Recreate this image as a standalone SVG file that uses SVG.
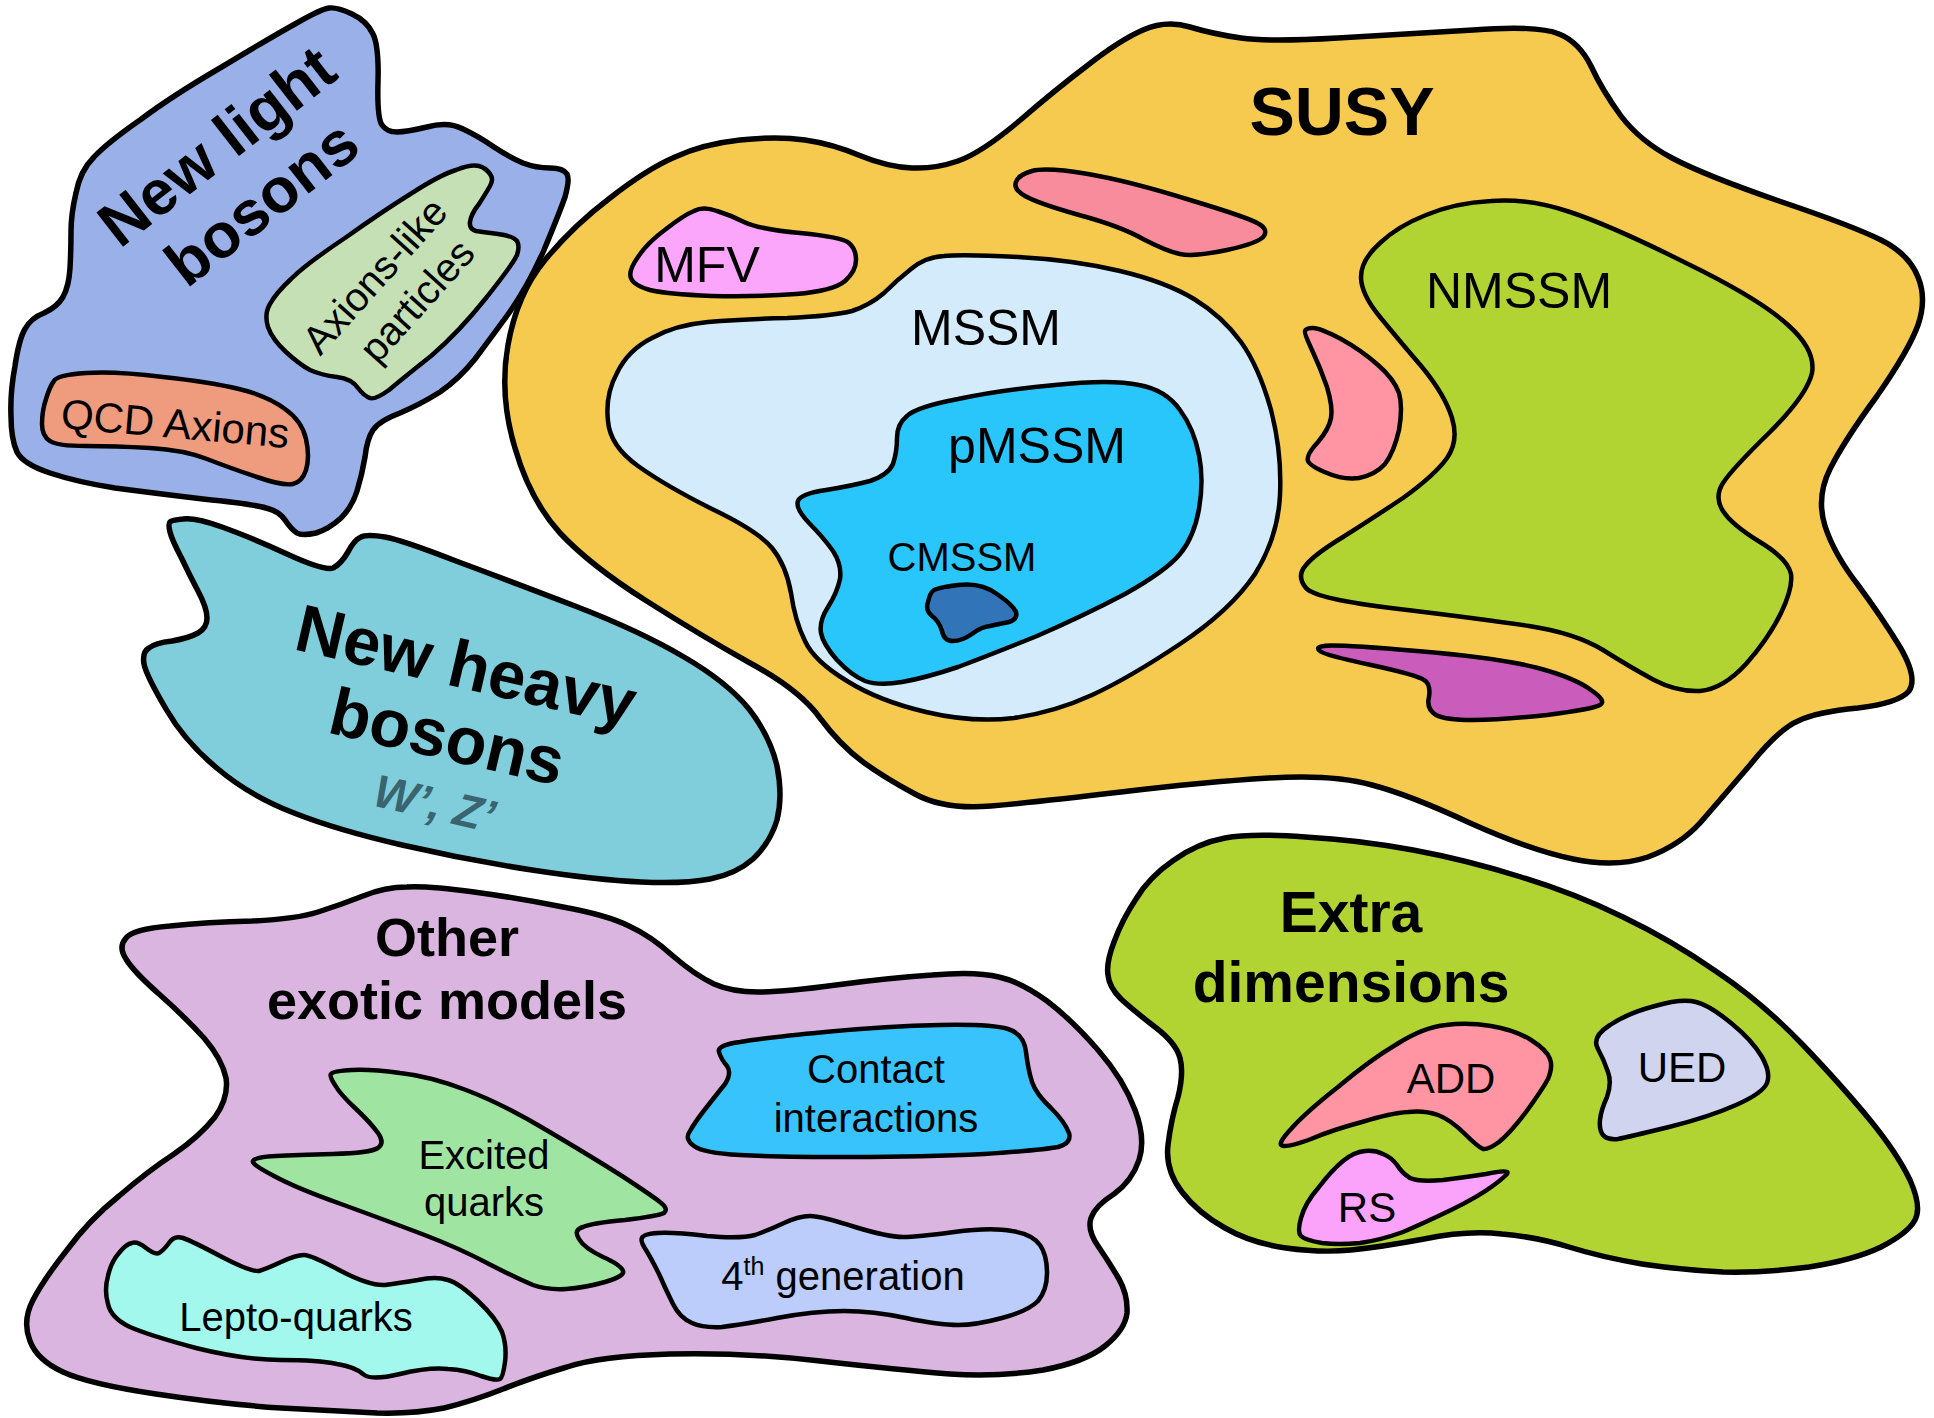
<svg xmlns="http://www.w3.org/2000/svg" width="1934" height="1418" viewBox="0 0 1934 1418">
<style>
.o{stroke:#000;stroke-width:5.5;stroke-linejoin:round}
.i{stroke:#000;stroke-width:4.5;stroke-linejoin:round}
.t{font-family:"Liberation Sans",Arial,Helvetica,sans-serif;fill:#000;text-anchor:middle}
.b{font-weight:bold}
</style>
<rect width="1934" height="1418" fill="#fff"/>
<g id="new-light-bosons">
<path class="o" fill="#9AB0E8" d="M329,8 Q337,7 352,14 Q367,21 373,34 Q379,46 378,82 Q377,118 382,125 Q387,132 397,132 Q406,132 427,127 Q448,121 463,129 Q478,136 494,147 Q509,157 523,163 Q536,168 550,168 Q563,168 567,174 Q570,179 565,197 Q559,214 544,250 Q528,286 509,313 Q490,339 475,359 Q459,379 440,392 Q421,404 400,413 Q379,421 373,430 Q367,439 365,457 Q362,475 357,491 Q352,507 341,518 Q329,529 316,533 Q302,536 297,533 Q291,529 285,520 Q279,511 266,508 Q253,504 203,499 Q153,493 115,488 Q77,482 50,473 Q23,464 17,452 Q11,439 11,416 Q10,393 15,366 Q19,339 25,329 Q31,318 44,313 Q57,307 63,297 Q69,286 70,268 Q71,250 71,232 Q71,214 76,193 Q80,171 94,157 Q107,143 140,120 Q172,96 220,68 Q268,39 295,24 Q321,9 329,8 Z"/>
<text class="t b" font-size="63" transform="translate(230,163) rotate(-38)">New light</text>
<text class="t b" font-size="63" transform="translate(275,220) rotate(-38)">bosons</text>
</g>
<g id="axions-like">
<path class="i" fill="#C6E0B5" d="M479,166 Q486,168 490,174 Q494,179 490,186 Q486,193 479,204 Q471,214 470,222 Q469,229 476,231 Q482,232 498,234 Q513,236 517,241 Q520,246 517,255 Q513,264 486,298 Q459,332 431,356 Q402,379 389,390 Q375,400 370,398 Q364,396 358,388 Q352,379 337,377 Q321,375 310,370 Q299,364 286,352 Q272,339 268,327 Q264,314 270,304 Q276,293 291,279 Q306,264 345,238 Q383,211 412,193 Q440,175 456,170 Q471,164 479,166 Z"/>
<text class="t" font-size="40" transform="translate(385,285) rotate(-48)">Axions-like</text>
<text class="t" font-size="40" transform="translate(427,310) rotate(-48)">particles</text>
</g>
<g id="qcd-axions">
<path class="i" fill="#EE9B7E" d="M54,381 Q57,375 86,373 Q115,371 163,377 Q210,382 239,389 Q268,396 285,409 Q302,421 306,439 Q310,457 306,470 Q302,482 293,484 Q283,486 257,477 Q230,468 207,459 Q184,450 150,448 Q115,446 86,446 Q57,446 50,441 Q42,436 42,424 Q42,411 46,399 Q50,386 54,381 Z"/>
<text class="t" font-size="42" transform="translate(174,438) rotate(5)">QCD Axions</text>
</g>
<g id="new-heavy-bosons">
<path class="o" fill="#80CDDB" d="M170,522 Q172,520 183,519 Q194,517 222,527 Q250,537 287,554 Q324,571 333,568 Q341,564 348,552 Q354,540 361,537 Q367,534 385,537 Q402,540 456,561 Q510,581 575,606 Q640,631 684,657 Q727,682 749,709 Q770,736 777,766 Q783,796 777,820 Q770,843 753,859 Q736,874 710,879 Q684,884 641,882 Q597,880 532,870 Q467,860 402,845 Q337,830 294,813 Q250,796 218,769 Q185,742 166,709 Q146,675 144,664 Q142,652 149,648 Q155,643 172,641 Q189,638 198,633 Q207,628 207,618 Q207,608 198,591 Q189,574 181,557 Q172,540 170,532 Q168,524 170,522 Z"/>
<text class="t b" font-size="67" transform="translate(461,688) rotate(13)">New heavy</text>
<text class="t b" font-size="67" transform="translate(442,759) rotate(13)">bosons</text>
<text class="t b" font-size="46" font-style="italic" style="fill:#3A6570" transform="translate(431,819) rotate(13)">W’, Z’</text>
</g>
<g id="susy">
<path class="o" fill="#F6C94F" d="M515,448 Q499,395 508,345 Q517,294 545,260 Q573,226 610,198 Q647,169 675,157 Q703,144 740,140 Q777,136 805,140 Q833,144 861,156 Q888,167 912,168 Q935,169 958,161 Q981,153 1018,122 Q1055,90 1088,65 Q1120,40 1143,30 Q1166,20 1190,27 Q1213,34 1241,38 Q1268,42 1338,38 Q1408,34 1473,30 Q1538,25 1559,34 Q1579,42 1591,66 Q1602,90 1621,116 Q1640,141 1672,158 Q1704,175 1779,201 Q1853,226 1881,240 Q1909,254 1918,277 Q1927,299 1918,325 Q1909,350 1877,396 Q1844,441 1830,469 Q1816,497 1825,526 Q1834,554 1858,585 Q1881,616 1900,647 Q1918,678 1909,691 Q1899,703 1858,708 Q1816,712 1798,721 Q1779,729 1750,765 Q1720,800 1700,823 Q1680,845 1648,857 Q1615,868 1573,859 Q1530,850 1470,823 Q1410,795 1372,785 Q1333,774 1269,778 Q1204,782 1121,792 Q1037,802 991,806 Q944,810 915,794 Q885,778 863,762 Q840,745 820,718 Q800,690 750,663 Q700,635 645,600 Q590,565 560,533 Q530,500 515,448 Z"/>
<text class="t b" font-size="68" x="1342" y="135">SUSY</text>
</g>
<g id="mfv">
<path class="i" fill="#FCA6FB" d="M694,211 Q703,206 717,211 Q730,215 744,222 Q758,229 800,233 Q842,237 849,243 Q856,249 856,260 Q856,271 845,281 Q833,291 796,294 Q758,297 712,296 Q666,294 650,290 Q633,285 631,278 Q628,271 638,257 Q647,243 666,229 Q684,215 694,211 Z"/>
<text class="t" font-size="50" x="707" y="282">MFV</text>
</g>
<g id="susy-pink-top">
<path class="i" fill="#F98C9C" d="M1016,182 Q1018,175 1032,171 Q1046,167 1088,174 Q1129,181 1190,200 Q1250,218 1259,224 Q1268,229 1264,236 Q1259,243 1227,250 Q1194,257 1180,254 Q1166,251 1143,239 Q1120,226 1079,215 Q1037,203 1025,196 Q1013,189 1016,182 Z"/>
</g>
<g id="mssm">
<path class="i" fill="#D3EBFB" d="M911,269 Q925,257 944,256 Q962,254 1018,257 Q1074,260 1120,271 Q1166,282 1194,299 Q1222,316 1241,342 Q1259,367 1271,410 Q1282,452 1280,495 Q1278,537 1255,574 Q1231,610 1180,644 Q1129,678 1092,695 Q1055,712 1014,718 Q972,723 926,712 Q879,701 847,681 Q814,661 805,641 Q795,621 791,593 Q786,565 772,548 Q758,531 712,509 Q666,486 638,466 Q610,446 608,421 Q605,395 617,373 Q628,350 652,338 Q675,325 708,322 Q740,319 787,318 Q833,316 852,311 Q870,305 884,293 Q897,280 911,269 Z"/>
<text class="t" font-size="50" x="986" y="345">MSSM</text>
</g>
<g id="pmssm">
<path class="i" fill="#29C6FC" d="M907,416 Q916,407 958,399 Q999,390 1055,385 Q1111,379 1139,385 Q1166,390 1180,410 Q1194,429 1199,455 Q1204,480 1199,509 Q1194,537 1180,554 Q1166,571 1125,594 Q1083,616 1037,636 Q990,655 958,667 Q925,678 902,682 Q879,686 865,681 Q851,675 837,660 Q823,644 821,633 Q819,621 828,607 Q837,593 840,579 Q842,565 833,551 Q823,537 809,523 Q795,508 798,501 Q800,494 826,490 Q851,486 870,481 Q888,475 893,464 Q897,452 897,438 Q897,424 907,416 Z"/>
<text class="t" font-size="50" x="1037" y="463">pMSSM</text>
<text class="t" font-size="40" x="962" y="571">CMSSM</text>
</g>
<g id="cmssm">
<path class="i" fill="#3274B8" d="M933,591 Q935,588 958,585 Q981,582 997,594 Q1013,605 1016,612 Q1018,619 1009,622 Q999,624 990,626 Q981,627 972,634 Q962,641 953,641 Q944,641 942,631 Q939,621 932,616 Q925,610 928,602 Q930,593 933,591 Z"/>
</g>
<g id="susy-pink-mid">
<path class="i" fill="#FF94A2" d="M1305,331 Q1306,328 1313,328 Q1320,328 1341,339 Q1361,350 1378,365 Q1394,379 1399,393 Q1403,407 1399,430 Q1394,452 1385,464 Q1375,475 1359,478 Q1343,480 1327,473 Q1310,466 1308,461 Q1306,455 1318,442 Q1329,429 1331,418 Q1333,407 1327,387 Q1320,367 1312,350 Q1304,333 1305,331 Z"/>
</g>
<g id="nmssm">
<path class="i" fill="#B2D432" d="M1426,215 Q1454,203 1491,201 Q1528,198 1570,212 Q1612,226 1686,263 Q1760,299 1788,325 Q1816,350 1812,373 Q1807,395 1770,432 Q1732,469 1723,483 Q1714,497 1723,511 Q1732,525 1760,542 Q1788,559 1791,574 Q1793,588 1781,613 Q1769,638 1746,664 Q1723,689 1700,691 Q1677,692 1654,680 Q1630,667 1603,650 Q1575,633 1529,626 Q1482,619 1399,609 Q1315,599 1306,588 Q1296,576 1306,565 Q1315,554 1343,537 Q1370,520 1403,498 Q1435,475 1447,458 Q1459,441 1452,418 Q1445,395 1422,367 Q1398,339 1380,317 Q1361,294 1361,277 Q1361,260 1380,243 Q1398,226 1426,215 Z"/>
<text class="t" font-size="50" x="1519" y="308">NMSSM</text>
</g>
<g id="susy-purple">
<path class="i" fill="#CA5CBB" d="M1320,651 Q1315,647 1324,646 Q1333,644 1417,651 Q1500,658 1538,668 Q1575,678 1591,690 Q1607,701 1600,705 Q1593,709 1547,715 Q1500,720 1473,720 Q1445,720 1436,715 Q1426,709 1429,697 Q1431,684 1424,680 Q1417,675 1371,665 Q1324,655 1320,651 Z"/>
</g>
<g id="other-exotic">
<path class="o" fill="#D9B5DF" d="M126,959 Q118,947 126,938 Q133,929 170,926 Q207,922 252,921 Q296,919 318,912 Q340,905 363,896 Q385,887 407,887 Q429,886 474,892 Q518,898 563,907 Q607,915 629,926 Q651,936 673,956 Q695,975 714,984 Q732,992 758,992 Q784,992 836,985 Q888,978 932,975 Q976,971 999,977 Q1021,982 1047,1001 Q1072,1020 1098,1050 Q1124,1080 1135,1110 Q1146,1139 1139,1160 Q1132,1181 1114,1194 Q1095,1206 1091,1218 Q1087,1230 1098,1246 Q1109,1262 1119,1279 Q1128,1295 1127,1313 Q1125,1330 1105,1346 Q1085,1362 1043,1370 Q1000,1377 950,1374 Q900,1370 820,1361 Q740,1352 670,1354 Q600,1356 567,1367 Q533,1377 503,1389 Q473,1401 444,1408 Q414,1414 377,1413 Q340,1411 281,1408 Q222,1404 156,1394 Q89,1384 63,1372 Q37,1360 30,1341 Q22,1321 33,1300 Q44,1279 67,1250 Q89,1220 119,1196 Q148,1171 174,1154 Q200,1136 215,1117 Q229,1097 226,1078 Q222,1059 204,1038 Q185,1017 159,994 Q133,971 126,959 Z"/>
<text class="t b" font-size="54" x="447" y="956">Other</text>
<text class="t b" font-size="54" x="447" y="1019">exotic models</text>
</g>
<g id="contact">
<path class="i" fill="#39C3FC" d="M719,1052 Q717,1045 740,1042 Q762,1038 825,1032 Q888,1026 940,1025 Q991,1024 1008,1029 Q1024,1034 1026,1052 Q1028,1069 1032,1082 Q1036,1094 1051,1108 Q1065,1122 1069,1133 Q1072,1143 1058,1147 Q1043,1150 984,1154 Q925,1157 851,1157 Q777,1157 740,1155 Q703,1153 694,1146 Q684,1139 690,1131 Q695,1122 706,1108 Q717,1094 725,1084 Q732,1073 727,1066 Q721,1059 719,1052 Z"/>
<text class="t" font-size="40" x="876" y="1083">Contact</text>
<text class="t" font-size="40" x="876" y="1132">interactions</text>
</g>
<g id="excited">
<path class="i" fill="#9FE5A1" d="M331,1074 Q333,1071 352,1070 Q370,1069 400,1073 Q429,1076 466,1090 Q503,1104 548,1131 Q592,1157 622,1176 Q651,1195 660,1202 Q669,1209 664,1213 Q658,1216 625,1220 Q592,1223 583,1227 Q573,1230 579,1239 Q584,1248 603,1257 Q621,1265 623,1271 Q625,1276 605,1282 Q584,1288 566,1289 Q547,1290 533,1285 Q518,1279 489,1264 Q459,1248 422,1234 Q385,1220 341,1204 Q296,1188 274,1176 Q251,1164 253,1161 Q255,1157 276,1156 Q296,1155 333,1154 Q370,1153 378,1148 Q385,1143 378,1133 Q370,1122 355,1108 Q340,1094 335,1085 Q329,1076 331,1074 Z"/>
<text class="t" font-size="40" x="484" y="1169">Excited</text>
<text class="t" font-size="40" x="484" y="1216">quarks</text>
</g>
<g id="fourth-generation">
<path class="i" fill="#BCCCFB" d="M642,1238 Q643,1234 658,1233 Q673,1232 707,1236 Q740,1239 755,1235 Q769,1230 784,1223 Q799,1216 810,1216 Q821,1216 855,1227 Q888,1237 903,1237 Q917,1237 954,1232 Q991,1227 1012,1231 Q1032,1234 1040,1245 Q1047,1255 1047,1273 Q1047,1290 1038,1301 Q1028,1311 1002,1318 Q976,1325 958,1325 Q939,1325 906,1318 Q873,1311 844,1311 Q814,1311 777,1318 Q740,1325 722,1327 Q703,1328 692,1323 Q680,1318 673,1304 Q666,1290 659,1274 Q651,1258 646,1250 Q640,1241 642,1238 Z"/>
<text class="t" font-size="40" x="843" y="1290">4<tspan font-size="25" dy="-15">th</tspan><tspan dy="15"> generation</tspan></text>
</g>
<g id="lepto-quarks">
<path class="i" fill="#A2F8EC" d="M119,1253 Q126,1244 132,1243 Q137,1241 146,1248 Q155,1255 159,1253 Q163,1251 169,1243 Q174,1235 183,1238 Q192,1241 222,1257 Q251,1272 259,1271 Q266,1269 281,1262 Q296,1255 304,1255 Q311,1255 341,1271 Q370,1286 385,1285 Q399,1283 418,1280 Q436,1276 448,1280 Q459,1283 478,1301 Q496,1318 502,1332 Q507,1346 505,1362 Q503,1377 500,1379 Q496,1381 481,1376 Q466,1370 448,1369 Q429,1367 400,1374 Q370,1381 363,1374 Q355,1367 337,1364 Q318,1360 281,1360 Q244,1360 196,1348 Q148,1335 130,1327 Q111,1318 108,1304 Q104,1290 108,1276 Q111,1262 119,1253 Z"/>
<text class="t" font-size="40" x="296" y="1331">Lepto-quarks</text>
</g>
<g id="extra-dimensions">
<path class="o" fill="#B2D432" d="M1108,975 Q1106,963 1114,942 Q1122,920 1136,899 Q1149,877 1174,860 Q1198,843 1225,838 Q1251,833 1305,837 Q1359,840 1413,850 Q1467,860 1521,877 Q1574,893 1623,917 Q1671,940 1717,972 Q1763,1003 1803,1045 Q1843,1087 1870,1120 Q1897,1153 1910,1180 Q1922,1207 1915,1220 Q1908,1233 1881,1247 Q1854,1260 1809,1267 Q1763,1273 1723,1272 Q1682,1270 1642,1264 Q1601,1257 1569,1247 Q1537,1237 1502,1234 Q1467,1230 1424,1239 Q1381,1247 1351,1250 Q1321,1253 1286,1248 Q1251,1243 1225,1228 Q1198,1213 1182,1192 Q1165,1170 1168,1145 Q1171,1120 1178,1097 Q1184,1073 1180,1058 Q1176,1043 1155,1027 Q1133,1010 1121,999 Q1109,987 1108,975 Z"/>
<text class="t b" font-size="57" x="1351" y="932">Extra</text>
<text class="t b" font-size="57" x="1351" y="1002">dimensions</text>
</g>
<g id="add">
<path class="i" fill="#FF95A2" d="M1283,1146 Q1276,1145 1291,1129 Q1305,1113 1338,1087 Q1370,1060 1397,1044 Q1424,1027 1446,1025 Q1467,1022 1491,1026 Q1515,1030 1531,1040 Q1547,1050 1550,1059 Q1553,1067 1548,1079 Q1542,1090 1526,1112 Q1510,1133 1499,1142 Q1488,1150 1483,1149 Q1478,1147 1465,1134 Q1451,1120 1438,1115 Q1424,1110 1408,1112 Q1391,1113 1362,1122 Q1332,1130 1311,1139 Q1289,1147 1283,1146 Z"/>
<text class="t" font-size="42" x="1451" y="1093">ADD</text>
</g>
<g id="ued">
<path class="i" fill="#D0D4EE" d="M1598,1049 Q1591,1037 1610,1025 Q1628,1013 1655,1006 Q1682,998 1696,1002 Q1709,1005 1731,1023 Q1752,1040 1762,1057 Q1771,1073 1767,1083 Q1763,1093 1736,1105 Q1709,1117 1669,1127 Q1628,1137 1618,1139 Q1607,1140 1603,1135 Q1599,1130 1600,1120 Q1601,1110 1607,1097 Q1612,1083 1608,1072 Q1604,1060 1598,1049 Z"/>
<text class="t" font-size="42" x="1682" y="1082">UED</text>
</g>
<g id="rs">
<path class="i" fill="#FBA3FA" d="M1301,1236 Q1297,1232 1301,1218 Q1305,1203 1319,1187 Q1332,1170 1343,1161 Q1354,1152 1365,1151 Q1375,1150 1383,1154 Q1391,1157 1397,1165 Q1402,1173 1410,1178 Q1418,1182 1443,1180 Q1467,1177 1486,1174 Q1504,1170 1507,1172 Q1510,1173 1494,1185 Q1478,1197 1451,1210 Q1424,1223 1403,1232 Q1381,1240 1360,1243 Q1338,1245 1322,1243 Q1305,1240 1301,1236 Z"/>
<text class="t" font-size="42" x="1367" y="1222">RS</text>
</g>
</svg>
